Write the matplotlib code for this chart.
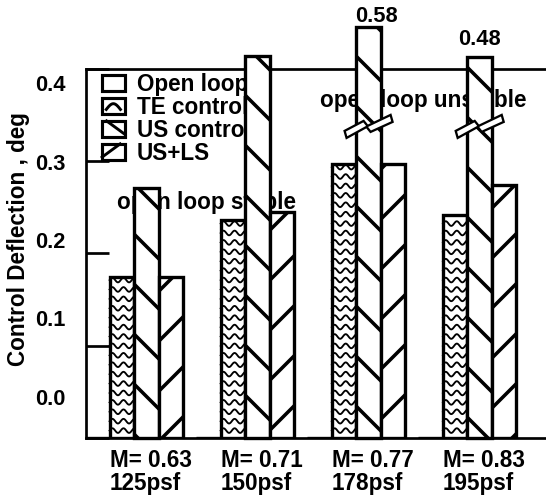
import numpy as np
import matplotlib
matplotlib.use('Agg')
import matplotlib.pyplot as plt
from matplotlib.patches import Patch, Rectangle, Polygon
from matplotlib.lines import Line2D
from matplotlib.legend_handler import HandlerBase

plt.rcParams['font.family'] = ['Liberation Sans', 'DejaVu Sans']
plt.rcParams['font.weight'] = 'bold'
plt.rcParams['hatch.linewidth'] = 1.7
plt.rcParams['hatch.color'] = 'black'

# data
conditions = ['M= 0.63\n125psf', 'M= 0.71\n150psf', 'M= 0.77\n178psf', 'M= 0.83\n195psf']
open_loop = [0.0, 0.0, 0.0, 0.0]
te_control = [0.174, 0.236, 0.297, 0.242]
us_control = [0.271, 0.414, 0.58, 0.48]
us_ls = [0.175, 0.245, 0.297, 0.274]
# bars above the axis are drawn broken, shorter than their value
us_drawn = [0.271, 0.414, 0.445, 0.413]
yticks = [0.0, 0.1, 0.2, 0.3, 0.4]
series_names = ['Open loop', 'TE control', 'US control', 'US+LS']

fig = plt.figure(figsize=(5.46 / 1.5, 4.95 / 1.5), dpi=150)
ax = fig.add_axes([0.1575, 0.1152, 0.8425, 0.7455])

x = np.arange(len(conditions))
w = 0.2205
bar_kw = dict(width=w, facecolor='white', edgecolor='black', linewidth=1.6, zorder=3)

ax.bar(x - 1.5 * w, open_loop, **bar_kw)
te_bars = ax.bar(x - 0.5 * w, te_control, **bar_kw)
us_bars = ax.bar(x + 0.5 * w, us_drawn, hatch='\\', clip_on=False, **bar_kw)
ax.bar(x + 1.5 * w, us_ls, hatch='/', **bar_kw)

# wavy fill for the TE control bars
def wave_fill(bar):
    x0 = bar.get_x()
    xs = np.linspace(x0, x0 + bar.get_width(), 80)
    for yr in np.arange(0.008, bar.get_height(), 0.0102):
        ax.plot(xs, yr + 0.0025 * np.sin(2 * np.pi * (xs - x0) / 0.1),
                color='black', lw=0.9, zorder=3.5, clip_path=bar)

for b in te_bars:
    wave_fill(b)

# break symbols and value labels on the bars that run off the axis
px_x, px_y = 1 / 111.1, 1 / 922.0
zig = np.array([(-24, -2), (-5, 8), (-1, 3), (22, 14), (24, 7), (2, -3), (-2, 2), (-22, -9)])
label_off = {2: (4, 5.3), 3: (0, 8.2)}
for i, b in enumerate(us_bars):
    if us_control[i] > us_drawn[i]:
        cx = b.get_x() + b.get_width() / 2
        pts = np.column_stack([cx + zig[:, 0] * px_x, 0.335 + zig[:, 1] * px_y])
        ax.add_patch(Polygon(pts, closed=True, facecolor='white', edgecolor='black',
                             lw=1.1, zorder=4, clip_on=False))
        ax.annotate(f'{us_control[i]:.2f}', xy=(cx, us_drawn[i]), xytext=label_off[i],
                    textcoords='offset points', ha='center', va='center',
                    fontsize=10.5, annotation_clip=False)

ax.text(0.656, 0.255, 'open loop stable', ha='center', va='center', fontsize=10.8, zorder=2)
ax.text(2.60, 0.366, 'open loop unstable', ha='center', va='center', fontsize=10.8, zorder=2)

ax.set_xlim(-0.433, 3.707)
ax.set_ylim(0, 0.4)
ax.spines['right'].set_visible(False)
for s in ['left', 'top', 'bottom']:
    ax.spines[s].set_linewidth(1.3)

ax.set_yticks(yticks)
ax.tick_params(axis='y', direction='in', length=11, width=1.3, labelleft=False)
ax.set_xticks(x - w)
ax.set_xticklabels(conditions, ha='left', fontsize=10.8, linespacing=0.95)
ax.tick_params(axis='x', length=0, pad=5.5)

# y tick labels sit on their own scale in the original
lab = ax.twinx()
lab.set_ylim(-0.0529, 0.4184)
lab.set_yticks(yticks)
lab.set_yticklabels([f'{v:.1f}' for v in yticks])
lab.yaxis.tick_left()
lab.tick_params(axis='y', length=0, pad=10, labelsize=10.5)
for s in lab.spines.values():
    s.set_visible(False)

fig.text(19 / 546, 1 - 239 / 495, 'Control Deflection , deg', rotation=90,
         ha='center', va='center', fontsize=10.8)


# legend boxes: small box with one stroke of the fill pattern
class BoxHandler(HandlerBase):
    def __init__(self, kind):
        super().__init__()
        self.kind = kind

    def create_artists(self, legend, orig_handle, xdescent, ydescent, width, height, fontsize, trans):
        x0, y0 = -xdescent, -ydescent
        arts = [Rectangle((x0, y0), width, height, facecolor='white',
                          edgecolor='black', lw=1.5, transform=trans)]
        if self.kind == 'te':
            xs = np.linspace(x0 + 2, x0 + width - 2, 20)
            ys = y0 + height * (0.3 + 0.35 * np.sin(np.pi * (xs - xs[0]) / (xs[-1] - xs[0])))
        elif self.kind == 'us':
            xs = [x0 + width * 0.2, x0 + width]
            ys = [y0 + height, y0 + height * 0.2]
        elif self.kind == 'usls':
            xs = [x0, x0 + width * 0.8]
            ys = [y0 + height * 0.2, y0 + height]
        else:
            return arts
        arts.append(Line2D(xs, ys, color='black', lw=1.4, transform=trans))
        return arts


kinds = ['open', 'te', 'us', 'usls']
handles = [Patch(facecolor='white', edgecolor='black') for _ in kinds]
leg = ax.legend(handles, series_names,
                handler_map={h: BoxHandler(k) for h, k in zip(handles, kinds)},
                loc='upper left', bbox_to_anchor=(0.035, 0.989), frameon=False,
                borderpad=0, borderaxespad=0, fontsize=10.8, handlelength=1.0,
                handleheight=0.75, handletextpad=0.55, labelspacing=0.0)
leg.set_zorder(2)

fig.savefig('out.png', dpi=150)
